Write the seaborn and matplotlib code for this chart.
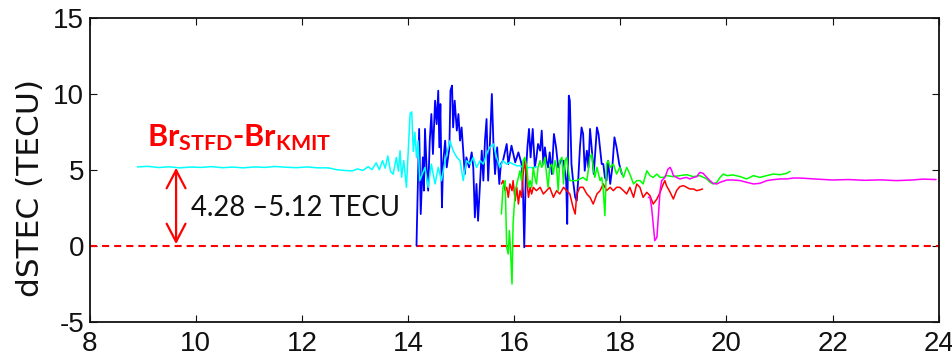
import matplotlib
matplotlib.use("Agg")
import matplotlib.pyplot as plt
import pandas as pd
import seaborn as sns

# Time axis (UT hours) and differential slant TEC (TECU) for each satellite track
cyan_t = [8.90, 9.10, 9.30, 9.50, 9.70, 9.90, 10.10, 10.30, 10.50, 10.70,
          10.90, 11.10, 11.30, 11.50, 11.70, 11.90, 12.10, 12.30, 12.50, 12.65,
          12.80, 12.95, 13.05, 13.15, 13.25, 13.32, 13.40, 13.46, 13.52, 13.57,
          13.62, 13.67, 13.72, 13.78, 13.82, 13.85, 13.88, 13.92, 13.97, 14.04,
          14.07, 14.10, 14.13, 14.16, 14.19, 14.22, 14.32, 14.38, 14.44, 14.51,
          14.57, 14.63, 14.70, 14.76, 14.79, 14.85, 14.92, 14.98, 15.04, 15.10,
          15.17, 15.23, 15.29, 15.36, 15.42, 15.48, 15.54, 15.61, 15.67, 15.73,
          15.79, 15.86, 15.92, 15.98, 16.05, 16.11, 16.17, 16.24, 16.30, 16.36,
          16.42]
cyan_v = [5.18, 5.22, 5.14, 5.19, 5.12, 5.17, 5.15, 5.20, 5.13, 5.17,
          5.12, 5.18, 5.15, 5.21, 5.16, 5.13, 5.18, 5.12, 5.12, 5.00,
          4.95, 4.92, 5.05, 4.95, 5.20, 5.00, 5.45, 5.00, 5.60, 5.10,
          5.90, 4.90, 4.70, 5.80, 4.90, 6.25, 4.50, 5.60, 3.84, 8.70,
          8.80, 6.20, 7.46, 5.80, 6.90, 4.28, 5.15, 3.84, 5.37, 4.06,
          5.15, 4.28, 5.59, 6.47, 6.91, 6.25, 5.81, 5.59, 4.28, 5.59,
          5.37, 5.81, 5.15, 5.59, 5.37, 6.03, 6.47, 6.69, 5.81, 5.15,
          5.59, 5.37, 5.48, 5.37, 5.26, 5.26, 5.15, 5.11, 5.15, 5.11,
          5.20]

blue_t = [14.16, 14.17, 14.21, 14.24, 14.28, 14.30, 14.32, 14.35, 14.38, 14.41,
          14.44, 14.47, 14.51, 14.54, 14.57, 14.59, 14.61, 14.64, 14.66, 14.70,
          14.73, 14.78, 14.80, 14.83, 14.85, 14.88, 14.92, 14.95, 14.98, 15.01,
          15.04, 15.07, 15.10, 15.15, 15.20, 15.23, 15.26, 15.29, 15.32, 15.36,
          15.39, 15.42, 15.45, 15.48, 15.51, 15.54, 15.58, 15.61, 15.64, 15.68,
          15.72, 15.75, 15.79, 15.86, 15.89, 15.95, 16.02, 16.08, 16.14, 16.17,
          16.19, 16.22, 16.25, 16.28, 16.31, 16.35, 16.39, 16.42, 16.45, 16.49,
          16.52, 16.55, 16.58, 16.61, 16.64, 16.67, 16.71, 16.75, 16.79, 16.83,
          16.88, 16.93, 16.98, 17.00, 17.03, 17.05, 17.08, 17.11, 17.15, 17.18,
          17.21, 17.24, 17.27, 17.30, 17.33, 17.37, 17.40, 17.43, 17.46, 17.50,
          17.56, 17.59, 17.65, 17.68, 17.71, 17.74, 17.77, 17.81, 17.85, 17.89,
          17.93, 17.98, 18.03]
blue_v = [0.00, 1.64, 7.68, 2.08, 5.81, 3.62, 7.68, 5.15, 3.62, 6.91,
          8.66, 6.03, 9.54, 8.00, 10.20, 6.47, 9.32, 2.52, 5.37, 6.91,
          5.15, 6.47, 10.20, 10.53, 7.78, 9.54, 7.57, 8.66, 6.91, 7.78,
          6.25, 4.71, 5.81, 5.15, 6.14, 5.15, 1.86, 4.06, 1.64, 4.28,
          6.25, 4.28, 6.91, 8.33, 4.28, 6.47, 9.98, 6.69, 4.71, 6.47,
          4.06, 5.37, 5.59, 6.69, 5.37, 6.58, 5.48, 6.14, 5.37, 3.18,
          -0.11, 4.71, 6.47, 7.68, 5.81, 7.68, 5.15, 5.81, 6.69, 6.25,
          7.57, 5.37, 6.47, 5.59, 5.15, 6.14, 4.71, 7.35, 6.47, 5.15,
          5.59, 5.59, 4.28, 1.43, 9.87, 9.54, 5.37, 4.28, 3.18, 2.96,
          4.49, 6.47, 7.78, 7.35, 4.93, 6.25, 5.15, 7.68, 6.47, 4.71,
          7.78, 7.35, 5.37, 5.37, 4.49, 4.28, 5.59, 4.06, 5.15, 7.13,
          6.47, 5.37, 4.71]

green_t = [15.76, 15.79, 15.83, 15.86, 15.89, 15.91, 15.93, 15.96, 15.98, 16.02,
           16.05, 16.08, 16.11, 16.14, 16.17, 16.20, 16.24, 16.27, 16.30, 16.33,
           16.36, 16.39, 16.42, 16.45, 16.49, 16.52, 16.55, 16.58, 16.61, 16.64,
           16.67, 16.71, 16.74, 16.77, 16.80, 16.83, 16.86, 16.90, 16.93, 16.96,
           16.99, 17.02, 17.05, 17.11, 17.18, 17.24, 17.30, 17.37, 17.43, 17.46,
           17.49, 17.52, 17.56, 17.59, 17.62, 17.65, 17.68, 17.71, 17.74, 17.77,
           17.81, 17.87, 17.93, 17.99, 18.06, 18.12, 18.18, 18.25, 18.31, 18.37,
           18.43, 18.50, 18.56, 18.62, 18.69, 18.75, 18.81, 18.87, 19.00, 19.12,
           19.25, 19.38, 19.50, 19.63, 19.69, 19.75, 19.82, 19.88, 19.94, 20.01,
           20.13, 20.26, 20.38, 20.44, 20.51, 20.63, 20.76, 20.88, 21.01, 21.14,
           21.20]
green_v = [2.08, 3.84, 4.28, -0.11, -0.55, 0.99, -0.11, -2.52, 1.43, 3.62,
           4.06, 4.49, 4.93, 4.28, 5.59, 5.81, 5.15, 3.84, 4.28, 3.84,
           5.15, 4.49, 4.06, 5.15, 5.59, 5.15, 5.37, 5.81, 4.71, 3.84,
           5.15, 5.37, 4.71, 5.59, 5.15, 3.62, 5.59, 5.81, 4.06, 5.59,
           5.81, 4.93, 4.28, 4.28, 4.28, 4.39, 4.49, 4.28, 5.81, 6.03,
           5.15, 4.49, 5.15, 4.71, 4.28, 4.49, 3.62, 1.97, 5.37, 5.59,
           5.15, 5.37, 4.71, 5.15, 4.49, 5.15, 4.71, 4.06, 4.28, 4.28,
           4.06, 4.93, 4.61, 4.49, 4.71, 4.49, 4.49, 4.61, 4.54, 4.61,
           4.67, 4.54, 4.61, 4.39, 4.17, 4.06, 4.17, 4.49, 4.71, 4.61,
           4.65, 4.54, 4.39, 4.49, 4.61, 4.49, 4.61, 4.71, 4.67, 4.76,
           4.89]

red_t = [15.76, 15.79, 15.83, 15.86, 15.89, 15.92, 15.96, 15.98, 16.02, 16.05,
         16.08, 16.11, 16.14, 16.17, 16.20, 16.24, 16.27, 16.30, 16.33, 16.36,
         16.42, 16.49, 16.55, 16.61, 16.67, 16.74, 16.80, 16.86, 16.93, 16.99,
         17.05, 17.11, 17.15, 17.18, 17.21, 17.24, 17.30, 17.37, 17.43, 17.49,
         17.56, 17.62, 17.68, 17.74, 17.81, 17.87, 17.93, 17.99, 18.06, 18.12,
         18.18, 18.25, 18.31, 18.37, 18.43, 18.50, 18.56, 18.62, 18.69, 18.75,
         18.81, 18.84, 18.87, 18.94, 19.00, 19.06, 19.12, 19.19, 19.25, 19.31,
         19.38, 19.44, 19.50, 19.55]
red_v = [4.06, 4.28, 3.62, 3.84, 3.18, 4.06, 3.62, 4.28, 2.96, 3.84,
         2.74, 3.62, 3.18, 4.71, 5.59, 4.28, 3.18, 3.84, 3.40, 3.84,
         3.62, 3.84, 3.40, 3.62, 3.84, 3.18, 3.62, 3.40, 3.84, 3.62,
         3.40, 2.52, 2.08, 3.40, 3.62, 3.84, 3.84, 3.40, 3.18, 2.74,
         3.40, 3.62, 4.06, 3.62, 3.84, 3.62, 3.84, 3.84, 3.62, 3.40,
         3.84, 3.18, 4.06, 3.84, 3.18, 3.51, 3.29, 2.74, 3.07, 3.51,
         4.06, 4.28, 3.95, 3.51, 3.07, 3.62, 3.88, 3.95, 3.84, 3.73,
         3.73, 3.62, 3.67, 3.73]

magenta_t = [18.53, 18.56, 18.59, 18.62, 18.65, 18.69, 18.72, 18.75, 18.78, 18.84,
             18.90, 18.94, 18.97, 19.00, 19.06, 19.12, 19.19, 19.25, 19.31, 19.38,
             19.44, 19.50, 19.56, 19.63, 19.69, 19.75, 19.82, 19.88, 20.01, 20.13,
             20.26, 20.38, 20.51, 20.63, 20.76, 20.88, 21.01, 21.14, 21.26, 21.39,
             21.70, 22.00, 22.30, 22.60, 22.90, 23.20, 23.50, 23.70, 23.95]
magenta_v = [3.18, 3.18, 2.52, 1.43, 0.33, 0.55, 2.08, 3.62, 4.28, 4.49,
             5.04, 5.15, 4.93, 4.61, 4.49, 4.39, 4.45, 4.49, 4.39, 4.49,
             4.54, 4.82, 4.76, 4.49, 4.28, 4.10, 4.06, 4.17, 4.32, 4.32,
             4.28, 4.17, 4.06, 4.10, 4.28, 4.34, 4.39, 4.39, 4.45, 4.45,
             4.38, 4.32, 4.35, 4.30, 4.33, 4.28, 4.32, 4.38, 4.35]

x_ticks = [8, 10, 12, 14, 16, 18, 20, 22, 24]
y_ticks = [-5, 0, 5, 10, 15]
offset_low, offset_high = 4.28, 5.12
offset_mark_t = 9.63

sns.set_theme(style="ticks")
plt.rcParams["font.family"] = ["Liberation Sans", "DejaVu Sans"]
plt.rcParams["axes.unicode_minus"] = False
plt.rcParams["mathtext.fontset"] = "custom"
plt.rcParams["mathtext.rm"] = "Lato"
plt.rcParams["mathtext.bf"] = "Lato:bold"
plt.rcParams["mathtext.it"] = "Lato:italic"

fig = plt.figure(figsize=(9.53, 3.61), dpi=100)
ax = fig.add_axes([0.094, 0.109, 0.891, 0.842])

tracks = [
    (blue_t, blue_v, "#0000ff", 1.3),
    (cyan_t, cyan_v, "#00ffff", 1.1),
    (red_t, red_v, "#ff0000", 1.1),
    (green_t, green_v, "#00ff00", 1.1),
    (magenta_t, magenta_v, "#ff00ff", 1.1),
]
for t, v, c, w in tracks:
    df = pd.DataFrame({"t": t, "v": v})
    sns.lineplot(data=df, x="t", y="v", color=c, lw=w, estimator=None,
                 sort=False, legend=False, ax=ax)

ax.axhline(0, color="#ff0000", lw=1.5, ls=(0, (3.4, 2.4)), zorder=1)

ax.set_xlim(8, 24)
ax.set_ylim(-5, 15)
ax.set_xticks(x_ticks)
ax.set_yticks(y_ticks)
ax.set_xlabel("")
ax.set_ylabel("dSTEC (TECU)", fontsize=22.5, family="DejaVu Sans", color="#111111")
ax.yaxis.set_label_coords(-0.052, 0.44)
ax.tick_params(direction="in", top=True, right=True, length=5, width=0.8,
               labelsize=20, colors="#111111")
ax.tick_params(axis="x", pad=7)
ax.tick_params(axis="y", pad=4)
for s in ax.spines.values():
    s.set_linewidth(1.3)
    s.set_color("#111111")
    s.set_visible(True)

# Offset annotation
ax.annotate("", xy=(offset_mark_t, offset_high), xytext=(offset_mark_t, 0.1),
            arrowprops=dict(arrowstyle="<->,head_length=0.65,head_width=0.34",
                            color="#ff0000", lw=1.6, shrinkA=0, shrinkB=0,
                            mutation_scale=20))
ax.text(9.08, 6.55, r"$\mathbf{Br}_{\mathbf{STFD}}$-$\mathbf{Br}_{\mathbf{KMIT}}$",
        color="#ff0000", fontsize=22, fontweight="bold", family="Lato",
        va="baseline", ha="left")
ax.text(9.91, 2.5, f"{offset_low} \u2013{offset_high} TECU", color="#111111",
        fontsize=19.8, family="Lato", va="center", ha="left")

fig.savefig("out.png", dpi=100, facecolor="white")
